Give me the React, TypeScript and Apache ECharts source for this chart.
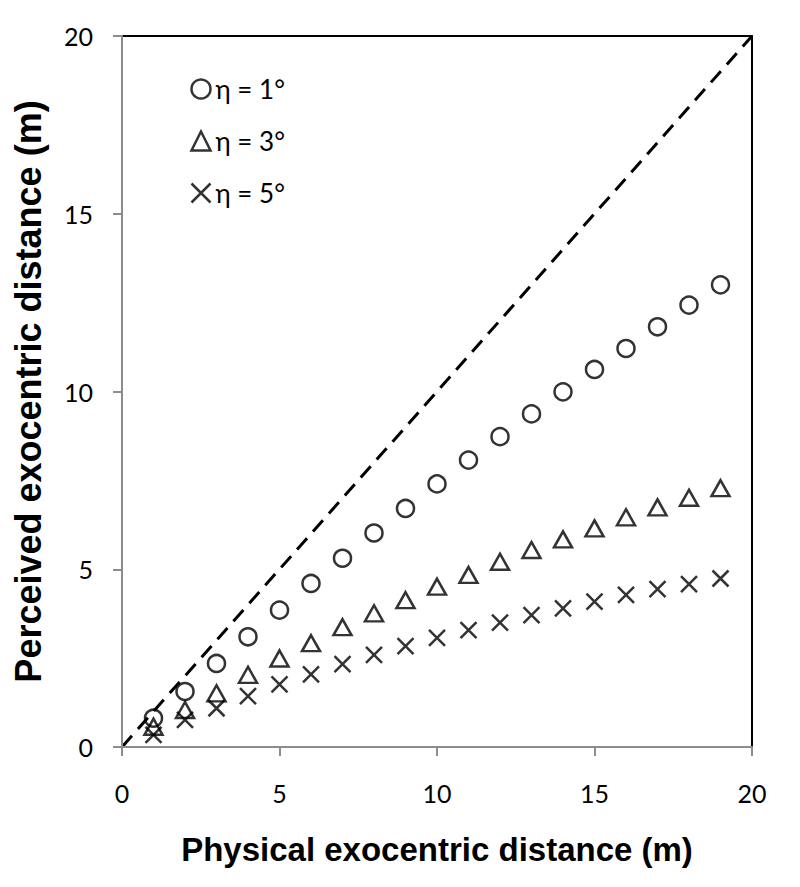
import React, { useEffect, useRef } from "react";
import * as echarts from "echarts";

const physical = [1, 2, 3, 4, 5, 6, 7, 8, 9, 10, 11, 12, 13, 14, 15, 16, 17, 18, 19];
const eta1 = [0.81, 1.56, 2.35, 3.1, 3.85, 4.6, 5.31, 6.02, 6.71, 7.4, 8.07, 8.73, 9.37, 9.99, 10.62, 11.21, 11.82, 12.43, 13.0];
const eta3 = [0.57, 1.04, 1.51, 2.03, 2.49, 2.92, 3.37, 3.76, 4.13, 4.51, 4.84, 5.21, 5.54, 5.84, 6.15, 6.46, 6.74, 7.01, 7.28];
const eta5 = [0.34, 0.76, 1.09, 1.43, 1.76, 2.04, 2.33, 2.59, 2.84, 3.07, 3.29, 3.5, 3.71, 3.9, 4.09, 4.28, 4.44, 4.58, 4.74];
const identityLine = [[0, 0], [20, 20]];
const seriesNames = ["η = 1°", "η = 3°", "η = 5°"];
const xTitle = "Physical exocentric distance (m)";
const yTitle = "Perceived exocentric distance (m)";

const crossPath = "path://M0 0L10 10M10 0L0 10";
const markerStyle = { color: "none", borderColor: "#000", borderWidth: 2.5 };
const labelFont = "Lato, 'Open Sans', sans-serif";
const titleFont = "'Liberation Sans Narrow', 'Liberation Sans', Arial, sans-serif";

export default function App() {
  const ref = useRef<HTMLDivElement>(null);
  useEffect(() => {
    document.body.style.margin = "0";
    if (!ref.current) return;
    const chart = echarts.init(ref.current, null, { renderer: "svg" });
    const pts = (ys: number[]) => physical.map((x, i) => [x, ys[i]]);
    const greyLine = { color: "#8c8c8c", width: 2 };
    const blackFrame = { show: true, onZero: false, lineStyle: { color: "#000", width: 2 } };
    chart.setOption({
      animation: false,
      backgroundColor: "#fff",
      grid: { left: 122, right: 48, top: 36, bottom: 140, outerBoundsMode: "none", containLabel: false },
      legend: {
        orient: "vertical",
        left: 184,
        top: 71,
        itemWidth: 19,
        itemHeight: 19,
        itemGap: 26,
        textStyle: { fontFamily: labelFont, fontSize: 26, color: "#000" },
        data: [
          { name: seriesNames[0], icon: "circle", itemStyle: markerStyle },
          { name: seriesNames[1], icon: "triangle", itemStyle: markerStyle },
          { name: seriesNames[2], icon: crossPath, itemStyle: markerStyle },
        ],
      },
      xAxis: [
        {
          type: "value",
          min: 0,
          max: 20,
          interval: 5,
          position: "bottom",
          name: xTitle,
          nameLocation: "middle",
          nameGap: 86,
          nameTextStyle: { fontFamily: titleFont, fontWeight: "bold", fontSize: 33, color: "#000" },
          axisLine: { show: true, onZero: false, lineStyle: greyLine },
          axisTick: { show: true, inside: false, length: 9, lineStyle: greyLine },
          axisLabel: { fontFamily: labelFont, fontSize: 25, color: "#000", margin: 33 },
          splitLine: { show: false },
          z: 5,
        },
        {
          type: "value",
          min: 0,
          max: 20,
          position: "top",
          axisLine: blackFrame,
          axisTick: { show: false },
          axisLabel: { show: false },
          splitLine: { show: false },
        },
      ],
      yAxis: [
        {
          type: "value",
          min: 0,
          max: 20,
          interval: 5,
          position: "left",
          name: yTitle,
          nameLocation: "middle",
          nameGap: 76,
          nameTextStyle: { fontFamily: titleFont, fontWeight: "bold", fontSize: 36, color: "#000" },
          axisLine: { show: true, onZero: false, lineStyle: greyLine },
          axisTick: { show: true, inside: false, length: 9, lineStyle: greyLine },
          axisLabel: { fontFamily: labelFont, fontSize: 25, color: "#000", margin: 29 },
          splitLine: { show: false },
          z: 5,
        },
        {
          type: "value",
          min: 0,
          max: 20,
          position: "right",
          axisLine: blackFrame,
          axisTick: { show: false },
          axisLabel: { show: false },
          splitLine: { show: false },
        },
      ],
      series: [
        {
          type: "line",
          data: identityLine,
          symbol: "none",
          silent: true,
          lineStyle: { color: "#000", width: 3, type: [15, 9] },
          z: 1,
        },
        {
          name: seriesNames[0],
          type: "scatter",
          data: pts(eta1),
          symbol: "circle",
          symbolSize: 17,
          itemStyle: markerStyle,
          z: 3,
        },
        {
          name: seriesNames[1],
          type: "scatter",
          data: pts(eta3),
          symbol: "triangle",
          symbolSize: [18, 16],
          itemStyle: markerStyle,
          z: 3,
        },
        {
          name: seriesNames[2],
          type: "scatter",
          data: pts(eta5),
          symbol: crossPath,
          symbolSize: 16,
          itemStyle: markerStyle,
          z: 3,
        },
      ],
    });
    return () => chart.dispose();
  }, []);
  return <div ref={ref} style={{ width: 800, height: 887 }} />;
}
